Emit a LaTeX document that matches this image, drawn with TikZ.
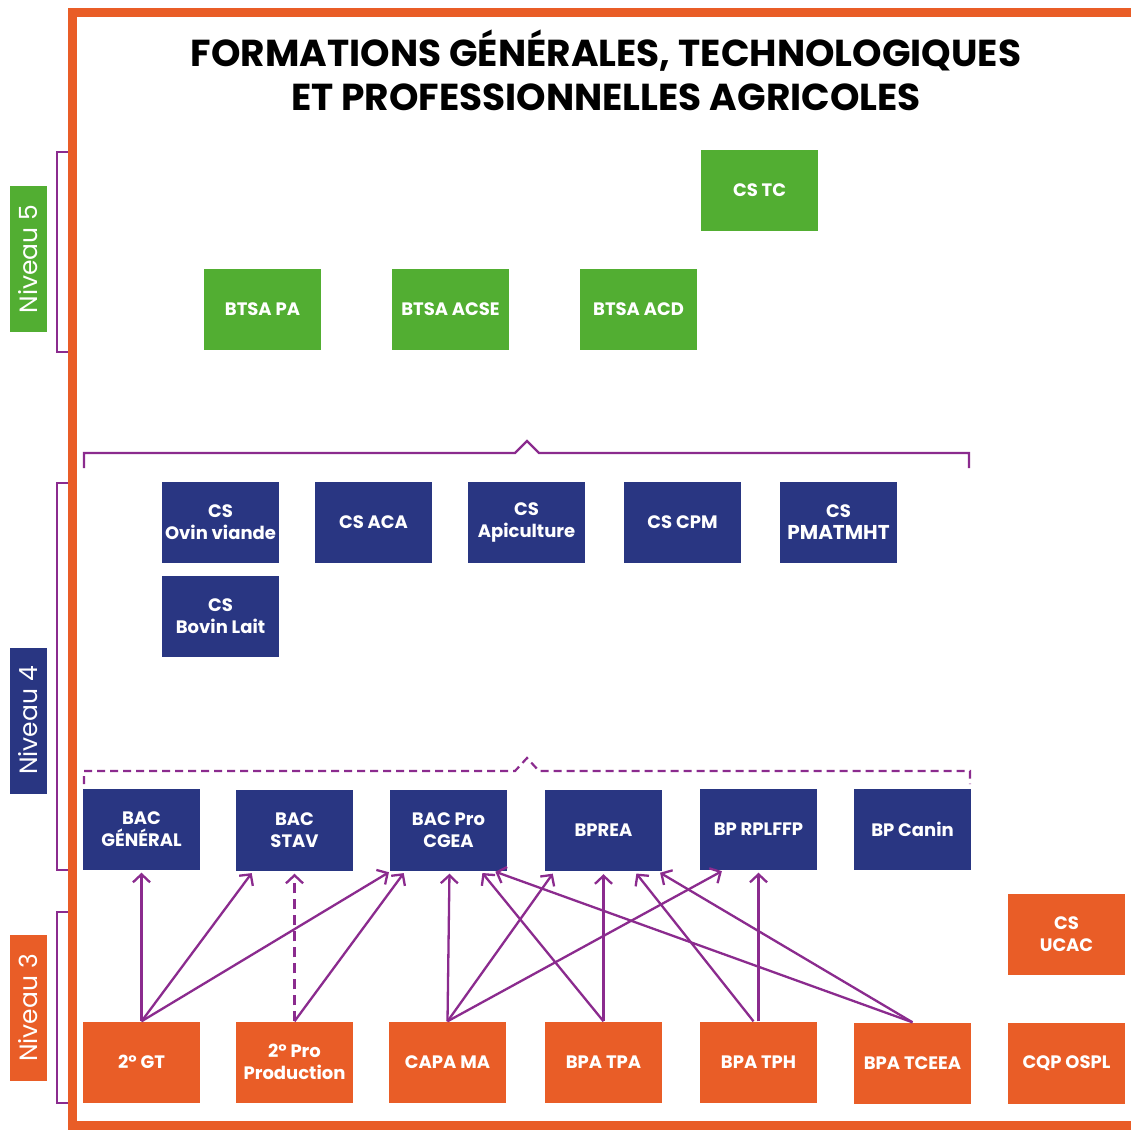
\documentclass[tikz,border=0pt]{standalone}
\usepackage{fontspec}
\setmainfont{Poppins}
\usetikzlibrary{arrows.meta}
\definecolor{orng}{HTML}{E95D27}
\definecolor{grn}{HTML}{52AE32}
\definecolor{navy}{HTML}{293682}
\definecolor{purp}{HTML}{8B2B8E}
\tikzset{
  box/.style={minimum width=117pt, minimum height=81pt, inner sep=0pt, align=center, text=white,
    font=\bfseries\fontsize{18}{22}\selectfont},
  gbox/.style={box, fill=grn},
  nbox/.style={box, fill=navy},
  obox/.style={box, fill=orng},
  lvl/.style={rotate=90, minimum width=146pt, minimum height=37pt, inner sep=0pt, text=white,
    font=\fontsize{25}{28}\selectfont},
  brk/.style={draw=purp, line width=2.2pt},
  arr/.style={draw=purp, line width=2.3pt, -{Straight Barb[length=8pt,width=17pt,line width=2.3pt]}, shorten >=3pt},
}
\begin{document}
\begin{tikzpicture}[x=1pt,y=-1pt]
\useasboundingbox (0,0) rectangle (1131,1129);
\fill[white] (0,0) rectangle (1131,1129);

% level brackets
\draw[brk] (69,152) -- (57,152) -- (57,352) -- (69,352);
\draw[brk] (69,483) -- (57,483) -- (57,870) -- (69,870);
\draw[brk] (69,912) -- (57,912) -- (57,1103) -- (69,1103);

% frame
\draw[orng, line width=9pt] (1140,12.5) -| (72.5,1125) -- (1140,1125);

% level labels
\node[lvl, fill=grn] (n5) at (28.5,259) {Niveau 5};
\node[lvl, fill=navy] (n4) at (28.5,720.5) {Niveau 4};
\node[lvl, fill=orng] (n3) at (28.5,1008) {Niveau 3};

% title
\node[align=center, font=\bfseries\fontsize{37.5}{44}\selectfont, inner sep=0pt] (title) at (606,70.5)
  {FORMATIONS GÉNÉRALES, TECHNOLOGIQUES\\ET PROFESSIONNELLES AGRICOLES};

% level 5
\node[gbox] (cstc) at (759.5,190.5) {CS TC};
\node[gbox] (btsapa) at (262.5,309.5) {BTSA PA};
\node[gbox] (btsaacse) at (450.5,309.5) {BTSA ACSE};
\node[gbox] (btsaacd) at (638.5,309.5) {BTSA ACD};

% brackets
\draw[brk] (84,468) -- (84,453) -- (515,453) -- (527,441) -- (539,453) -- (969,453) -- (969,468);
\draw[brk, dash pattern=on 8pt off 5pt] (84,784) -- (84,771) -- (515,771) -- (527,758) -- (539,771) -- (970,771) -- (970,784);

% level 4 CS
\node[nbox] (ovin) at (220.5,522.5) {CS\\Ovin viande};
\node[nbox] (aca) at (373.5,522.5) {CS ACA};
\node[nbox] (api) at (526.5,522.5) {CS\\Apiculture};
\node[nbox] (cpm) at (682.5,522.5) {CS CPM};
\node[nbox] (pmat) at (838.5,522.5) {CS\\{\fontsize{20}{22}\selectfont PMATMHT}};
\node[nbox] (bovin) at (220.5,616.5) {CS\\Bovin Lait};

% level 4 BAC
\node[nbox] (bacg) at (141.5,829) {BAC\\GÉNÉRAL};
\node[nbox] (stav) at (294.5,830) {BAC\\STAV};
\node[nbox] (cgea) at (448.5,830) {BAC Pro\\CGEA};
\node[nbox] (bprea) at (603.5,830.5) {BPREA};
\node[nbox] (rplffp) at (758.5,829) {BP RPLFFP};
\node[nbox] (canin) at (912.5,829) {BP Canin};

% level 3
\node[obox] (gt) at (141.5,1062) {2° GT};
\node[obox] (pro) at (294.5,1062) {2° Pro\\Production};
\node[obox] (capa) at (447.5,1062) {CAPA MA};
\node[obox] (tpa) at (603.5,1062) {BPA TPA};
\node[obox] (tph) at (758.5,1062) {BPA TPH};
\node[obox] (tcea) at (912.5,1063) {BPA TCEEA};
\node[obox] (cqp) at (1066.5,1063) {CQP OSPL};
\node[obox] (ucac) at (1066.5,934) {CS\\UCAC};

% arrows
\draw[arr] (gt.north) -- (bacg.south);
\draw[arr] (gt.north) -- ([xshift=-41pt]stav.south);
\draw[arr] (gt.north) -- ([xshift=-57pt]cgea.south);
\draw[arr, dash pattern=on 10pt off 6pt] (pro.north) -- (stav.south);
\draw[arr] (pro.north) -- ([xshift=-43pt]cgea.south);
\draw[arr] (capa.north) -- ([xshift=1pt]cgea.south);
\draw[arr] (capa.north) -- ([xshift=-49pt]bprea.south);
\draw[arr] (capa.north) -- ([xshift=-34pt]rplffp.south);
\draw[arr] (tpa.north) -- ([xshift=32pt]cgea.south);
\draw[arr] (tpa.north) -- (bprea.south);
\draw[arr] ([xshift=-5pt]tph.north) -- ([xshift=31pt]bprea.south);
\draw[arr] (tph.north) -- (rplffp.south);
\draw[arr] (tcea.north) -- ([xshift=44pt]cgea.south);
\draw[arr] (tcea.north) -- ([xshift=54pt]bprea.south);
\end{tikzpicture}
\end{document}
